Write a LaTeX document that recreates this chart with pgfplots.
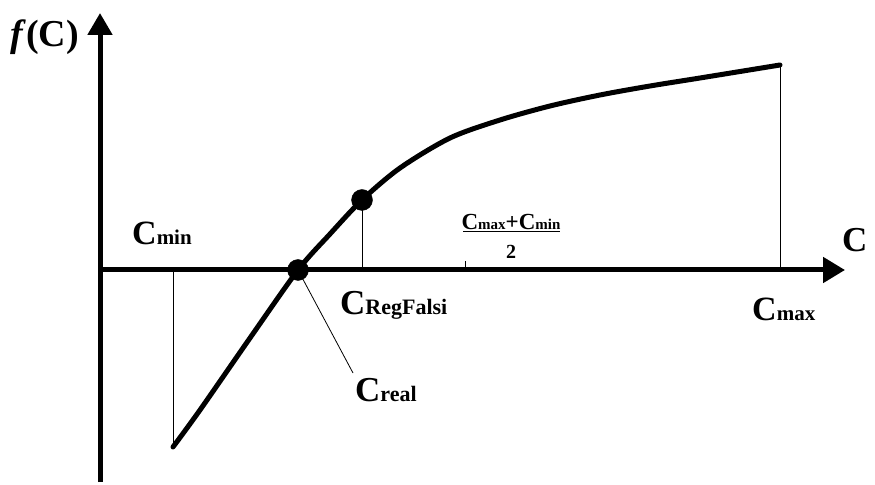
\documentclass[border=0pt]{standalone}
\usepackage{pgfplots}
\pgfplotsset{compat=1.18}
\usepackage{fontspec}
\setmainfont{Liberation Serif}
\usetikzlibrary{arrows.meta}
\newcommand\CC[3]{{\fontsize{#1}{#1}\selectfont C}{\fontsize{#2}{#2}\selectfont #3}}
\begin{document}
\begin{tikzpicture}
\begin{axis}[
  scale only axis, width=875pt, height=480pt,
  xmin=-100, xmax=775, ymin=-210, ymax=270,
  hide axis, clip=false,
]
\draw[draw=none] (rel axis cs:0,0) rectangle (rel axis cs:1,1);
% axes
\addplot[line width=5pt, -{Triangle[length=22pt,width=24pt]}] coordinates {(0,-212) (0,257)};
\addplot[line width=5pt, -{Triangle[length=22pt,width=25pt]}] coordinates {(0,0) (745,0)};
% thin lines
\addplot[line width=1pt] coordinates {(73,0) (73,-177)};
\addplot[line width=1pt] coordinates {(262,0) (262,70)};
\addplot[line width=1pt] coordinates {(680,0) (680,205)};
\addplot[line width=1pt] coordinates {(365,0) (365,9)};
\addplot[line width=0.8pt] coordinates {(198,0) (253,-103)};
% curve
\addplot[line width=5pt, smooth, tension=0.5, line cap=round] coordinates {
(73,-177) (100,-140) (150,-68) (198,0) (230,36) (262,70) (300,102) (350,132)
(400,150) (450,164) (500,175) (550,184) (600,192) (680,205)};
% dots
\addplot[only marks, mark=*, mark size=10.5pt, black] coordinates {(198,0) (262,70)};
% labels
\node[anchor=base west, inner sep=0pt, font=\bfseries] at (axis cs:32,25) {\CC{34}{21}{min}};
\node[anchor=base west, inner sep=0pt, font=\bfseries] at (axis cs:652,-51) {\CC{34}{21}{max}};
\node[anchor=base west, inner sep=0pt, font=\bfseries] at (axis cs:240,-45) {\CC{35}{22}{RegFalsi}};
\node[anchor=base west, inner sep=0pt, font=\bfseries] at (axis cs:255,-132) {\CC{35}{22}{real}};
\node[anchor=base west, inner sep=0pt, font=\bfseries] at (axis cs:742,18) {\fontsize{35}{35}\selectfont C};
\node[anchor=base west, inner sep=0pt, font=\bfseries] at (axis cs:-90,223) {\fontsize{38}{38}\selectfont\textit{f}(C)};
\node[anchor=south, inner sep=0pt, font=\bfseries] at (axis cs:411,40) {\CC{23}{15}{max}\fontsize{23}{23}\selectfont+\CC{23}{15}{min}};
\draw[line width=1pt] (axis cs:363,38) -- (axis cs:460,38);
\node[anchor=base, inner sep=0pt, font=\bfseries] at (axis cs:411,11) {\fontsize{20}{20}\selectfont 2};
\end{axis}
\end{tikzpicture}
\end{document}
